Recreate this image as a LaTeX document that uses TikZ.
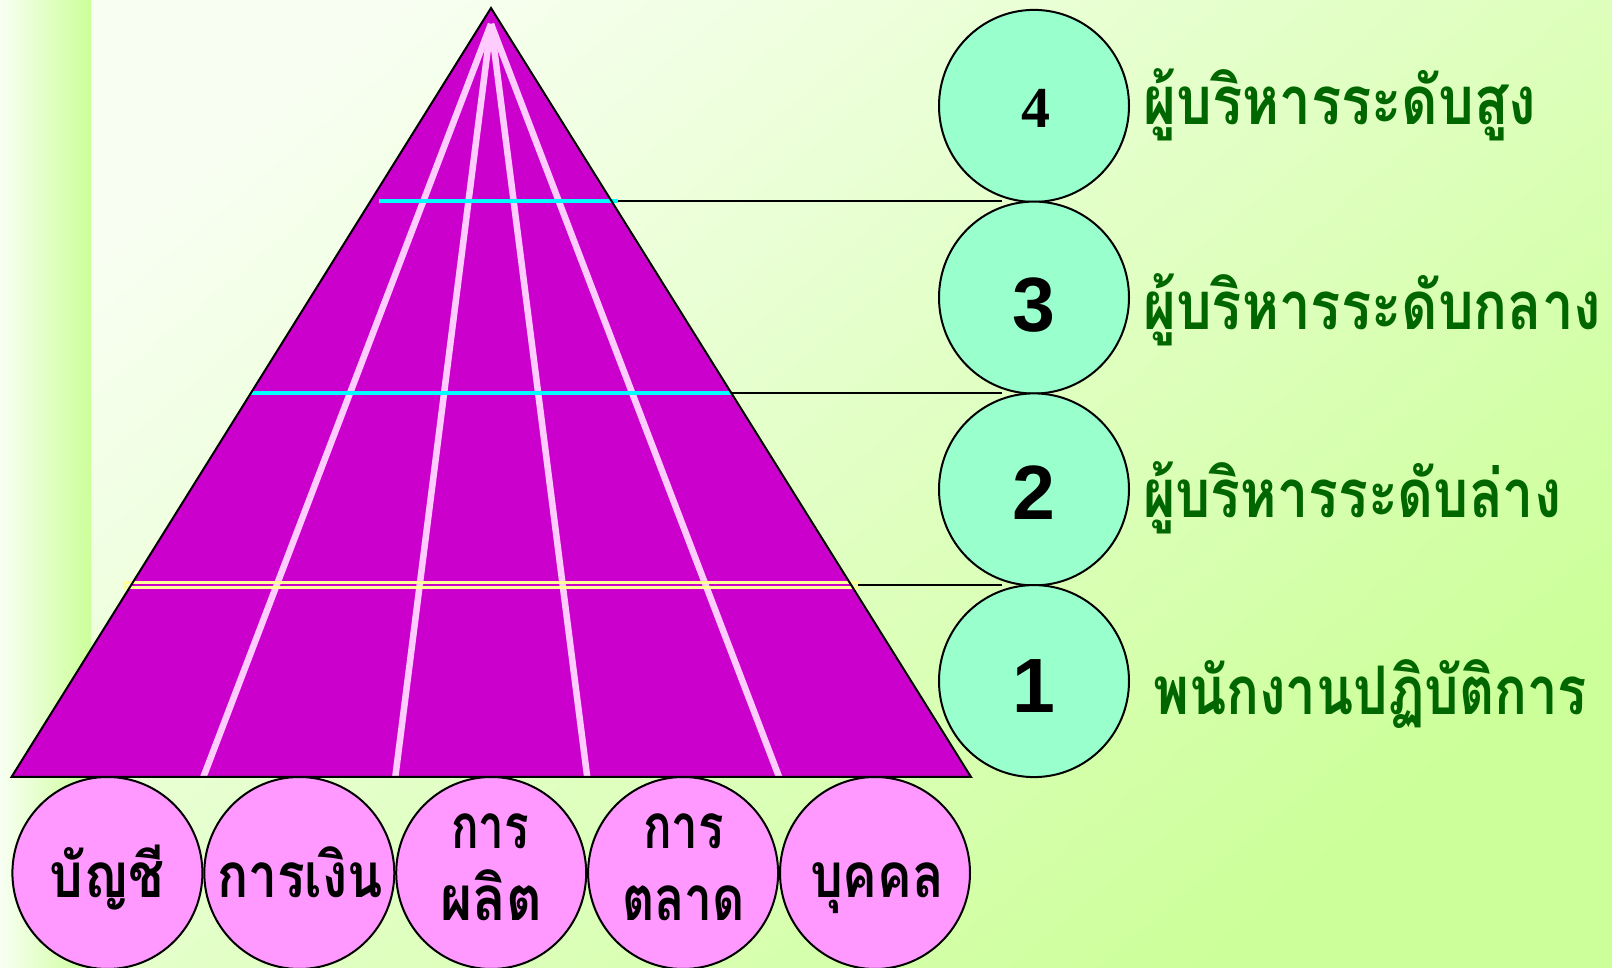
\documentclass[tikz,border=0pt]{standalone}
\usepackage{fontspec}
\usepackage{graphicx}
\setmainfont{Liberation Serif}
\newfontfamily\thaifont[Script=Thai]{Loma}
\newfontfamily\numsans{Liberation Sans}
\newfontfamily\numserif{Liberation Serif}
\usetikzlibrary{shapes.geometric}
\definecolor{bgA}{HTML}{F8FFF2}
\definecolor{bgB}{HTML}{E4FFC8}
\definecolor{bgC}{HTML}{CCFF99}
\definecolor{pyr}{HTML}{CC00CC}
\definecolor{fanc}{HTML}{FFCCFF}
\definecolor{cyanl}{HTML}{00FFFF}
\definecolor{yell}{HTML}{FFFF99}
\definecolor{mint}{HTML}{99FFCC}
\definecolor{pinkc}{HTML}{FF99FF}
\definecolor{thgreen}{RGB}{0,102,0}
\begin{document}
\begin{tikzpicture}[x=1pt,y=1pt,
  fanline/.style={draw=fanc,line width=6.5pt},
  levline/.style={draw=cyanl,line width=4pt},
  conn/.style={draw=black,line width=2pt},
  numcirc/.style={ellipse,draw=black,line width=2pt,fill=mint,minimum width=190pt,minimum height=192pt,inner sep=0pt},
  botcirc/.style={ellipse,draw=black,line width=2pt,fill=pinkc,minimum width=190pt,minimum height=192pt,inner sep=0pt},
  bignum/.style={anchor=base,inner sep=0pt,font=\numsans\bfseries\fontsize{77}{80}\selectfont},
  smallnum/.style={anchor=base,inner sep=0pt,font=\numserif\bfseries\fontsize{58}{60}\selectfont},
  lvltxt/.style={anchor=base west,inner sep=0pt,text=thgreen,font=\thaifont\bfseries\fontsize{67}{76}\selectfont},
  bottxt/.style={anchor=base,inner sep=0pt,text=black,font=\thaifont\bfseries\fontsize{62}{70}\selectfont}]
\useasboundingbox (0,0) rectangle (1612,967);
% background
\shade[top color=bgA, bottom color=bgC, shading angle=40] (0,0) rectangle (1612,967);
\shade[left color=bgA, right color=bgC] (0,0) rectangle (91,967);
% pyramid
\coordinate (apex) at (491,959);
\coordinate (bl) at (11.5,190);
\coordinate (br) at (971,190);
\fill[pyr] (bl) -- (apex) -- (br) -- cycle;
\coordinate (fan) at (491,943);
\coordinate (f1) at (203.4,190);
\coordinate (f2) at (395.3,190);
\coordinate (f3) at (587.2,190);
\coordinate (f4) at (779.1,190);
\draw[fanline] (fan) -- (f1);
\draw[fanline] (fan) -- (f2);
\draw[fanline] (fan) -- (f3);
\draw[fanline] (fan) -- (f4);
% level lines
\coordinate (a1) at (379,766);
\coordinate (e1) at (618,766);
\coordinate (a2) at (251,574.3);
\coordinate (e2) at (732,574.3);
\draw[levline] (a1) -- (e1);
\draw[levline] (a2) -- (e2);
\draw[draw=yell,line width=2.5pt] (124,379.5) rectangle (858,384.5);
\coordinate (e3) at (858,382);
\draw[black,line width=2pt,line join=miter] (bl) -- (apex) -- (br) -- cycle;
% connectors
\coordinate (k1) at (1002,766);
\coordinate (k2) at (1002,574.3);
\coordinate (k3) at (1002,382);
\draw[conn] (e1) -- (k1);
\draw[conn] (e2) -- (k2);
\draw[conn] (e3) -- (k3);
% right circles
\node[numcirc] (c4) at (1034,861.1) {};
\node[numcirc] (c3) at (1034,669.4) {};
\node[numcirc] (c2) at (1034,477.6) {};
\node[numcirc] (c1) at (1034,285.9) {};
\node[smallnum] (n4) at (1035.5,839) {4};
\node[bignum] (n3) at (1034,635) {3};
\node[bignum] (n2) at (1034,447) {2};
\node[bignum] (n1) at (1034,254) {1};
% level labels
\node[lvltxt] (t4) at (1143,842) {\resizebox{393pt}{\height}{ผู้บริหารระดับสูง}};
\node[lvltxt] (t3) at (1143,637) {\resizebox{458pt}{\height}{ผู้บริหารระดับกลาง}};
\node[lvltxt] (t2) at (1143,449) {\resizebox{418pt}{\height}{ผู้บริหารระดับล่าง}};
\node[lvltxt] (t1) at (1153,252) {\resizebox{434pt}{\height}{พนักงานปฏิบัติการ}};
% bottom circles
\node[botcirc] (b1) at (107.4,94) {};
\node[botcirc] (b2) at (299.3,94) {};
\node[botcirc] (b3) at (491.2,94) {};
\node[botcirc] (b4) at (683.1,94) {};
\node[botcirc] (b5) at (875,94) {};
\node[bottxt] (s1) at (107.4,70) {\resizebox{115pt}{\height}{บัญชี}};
\node[bottxt] (s2) at (300,70) {\resizebox{166pt}{\height}{การเงิน}};
\node[bottxt] (s3a) at (490,119) {\resizebox{78pt}{\height}{การ}};
\node[bottxt] (s3b) at (491,47) {\resizebox{102pt}{\height}{ผลิต}};
\node[bottxt] (s4a) at (683.5,119) {\resizebox{81pt}{\height}{การ}};
\node[bottxt] (s4b) at (683.5,47) {\resizebox{123pt}{\height}{ตลาด}};
\node[bottxt] (s5) at (877,70) {\resizebox{134pt}{\height}{บุคคล}};
\end{tikzpicture}
\end{document}
